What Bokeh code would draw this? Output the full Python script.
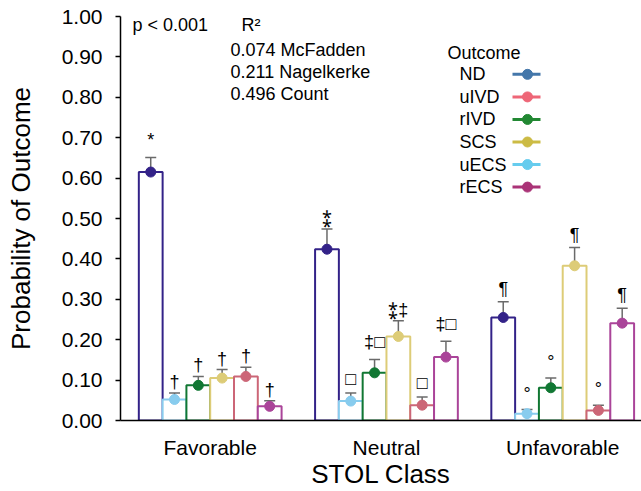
from bokeh.plotting import figure
from bokeh.models import (ColumnDataSource, Whisker, TeeHead, FixedTicker,
                          PrintfTickFormatter, Range1d)
from bokeh.core.properties import value
from bokeh.embed import file_html
from bokeh.resources import INLINE

# ---------------- data ----------------
categories = ["Favorable", "Neutral", "Unfavorable"]
bar_order = ["ND", "uECS", "rIVD", "SCS", "uIVD", "rECS"]
legend_order = ["ND", "uIVD", "rIVD", "SCS", "uECS", "rECS"]

prob_ND = [0.615, 0.424, 0.255]
prob_uECS = [0.052, 0.048, 0.017]
prob_rIVD = [0.087, 0.118, 0.081]
prob_SCS = [0.105, 0.208, 0.383]
prob_uIVD = [0.109, 0.038, 0.025]
prob_rECS = [0.035, 0.157, 0.241]

upper_ND = [0.651, 0.474, 0.294]
upper_uECS = [0.068, 0.068, 0.027]
upper_rIVD = [0.109, 0.151, 0.105]
upper_SCS = [0.126, 0.247, 0.428]
upper_uIVD = [0.132, 0.058, 0.038]
upper_rECS = [0.049, 0.196, 0.278]

lower_ND = [0.578, 0.377, 0.216]
lower_uECS = [0.035, 0.029, 0.009]
lower_rIVD = [0.067, 0.086, 0.056]
lower_SCS = [0.081, 0.169, 0.341]
lower_uIVD = [0.085, 0.020, 0.012]
lower_rECS = [0.021, 0.122, 0.202]

marks_ND = ["*", "\u2051", "\u00b6"]
marks_uECS = ["\u2020", "\u25a1", "\u00b0"]
marks_rIVD = ["\u2020", "\u2021\u25a1", "\u00b0"]
marks_SCS = ["\u2020", "\u2051\u2021", "\u00b6"]
marks_uIVD = ["\u2020", "\u25a1", "\u00b0"]
marks_rECS = ["\u2020", "\u2021\u25a1", "\u00b6"]

y_ticks = [0.0, 0.1, 0.2, 0.3, 0.4, 0.5, 0.6, 0.7, 0.8, 0.9, 1.0]

stats_title = "p < 0.001"
r2_title = "R\u00b2"
r2_lines = ["0.074 McFadden", "0.211 Nagelkerke", "0.496 Count"]
legend_title = "Outcome"

bar_colors = {"ND": "#332288", "uECS": "#88CCEE", "rIVD": "#117733",
              "SCS": "#DDCC77", "uIVD": "#CC6677", "rECS": "#AA4499"}
legend_colors = {"ND": "#4477AA", "uIVD": "#EE6677", "rIVD": "#228833",
                 "SCS": "#CCBB44", "uECS": "#66CCEE", "rECS": "#AA3377"}

probs = {"ND": prob_ND, "uECS": prob_uECS, "rIVD": prob_rIVD,
         "SCS": prob_SCS, "uIVD": prob_uIVD, "rECS": prob_rECS}
uppers = {"ND": upper_ND, "uECS": upper_uECS, "rIVD": upper_rIVD,
          "SCS": upper_SCS, "uIVD": upper_uIVD, "rECS": upper_rECS}
lowers = {"ND": lower_ND, "uECS": lower_uECS, "rIVD": lower_rIVD,
          "SCS": lower_SCS, "uIVD": lower_uIVD, "rECS": lower_rECS}
marks = {"ND": marks_ND, "uECS": marks_uECS, "rIVD": marks_rIVD,
         "SCS": marks_SCS, "uIVD": marks_uIVD, "rECS": marks_rECS}

FONT = "Liberation Sans"

# ---------------- figure ----------------
W, H = 641, 491
LEFT, TOP, BOTTOM = 120, 16, 70
frame_w = W - LEFT
x0 = -0.509
unit_px = 176.25
x1 = x0 + frame_w / unit_px
frame_h = H - TOP - BOTTOM

p = figure(width=W, height=H, output_backend="svg", toolbar_location=None,
           x_range=Range1d(x0, x1), y_range=Range1d(0, 1.0),
           min_border_left=LEFT, min_border_right=0,
           min_border_top=TOP, min_border_bottom=BOTTOM)
p.outline_line_color = None
p.xgrid.visible = False
p.ygrid.visible = False
p.background_fill_color = "white"

group_w = 0.81
bw = group_w / len(bar_order)

# extra lift (px) for marks whose glyph sits low in the em box
lift = {"*": 6, "\u25a1": 3, "\u2021\u25a1": 6, "\u00b0": 5, "\u00b6": 2}

xs, tops, cols, ups, los, mk, offs = [], [], [], [], [], [], []
for i, k in enumerate(bar_order):
    for c in range(len(categories)):
        xs.append(c + (i - (len(bar_order) - 1) / 2) * bw)
        tops.append(probs[k][c])
        cols.append(bar_colors[k])
        ups.append(uppers[k][c])
        los.append(lowers[k][c])
        mk.append(marks[k][c])
        offs.append(-1 - lift.get(marks[k][c], 0))

src = ColumnDataSource(dict(x=xs, top=tops, color=cols, upper=ups,
                            lower=los, mark=mk, off=offs))

p.vbar(x="x", top="top", bottom=0, width=bw, source=src,
       fill_color="white", line_color="color", line_width=2)

wh = Whisker(base="x", upper="upper", lower="lower", source=src,
             line_color="#6a6a6a", line_width=1.5,
             upper_head=TeeHead(size=11, line_color="#6a6a6a", line_width=1.5),
             lower_head=TeeHead(size=11, line_color="#6a6a6a", line_width=1.5))
p.add_layout(wh)

p.scatter(x="x", y="top", source=src, size=10, fill_color="color",
          line_color="color")

p.text(x="x", y="upper", text="mark", source=src, text_align="center",
       text_baseline="bottom", y_offset="off", text_font=value(FONT),
       text_font_size="18px", text_color="black")

# ---------------- text block ----------------
def px2x(px):
    return x0 + (px - LEFT) / unit_px

def py2y(py):
    return (TOP + frame_h - py) / frame_h

p.text(x=[px2x(132)], y=[py2y(25)], text=[stats_title], text_baseline="middle",
       text_font=value(FONT), text_font_size="18px", text_color="black")
p.text(x=[px2x(241)], y=[py2y(25)], text=[r2_title], text_baseline="middle",
       text_font=value(FONT), text_font_size="18px", text_color="black")
p.text(x=[px2x(230)] * len(r2_lines),
       y=[py2y(50 + 22 * i) for i in range(len(r2_lines))],
       text=r2_lines, text_baseline="middle",
       text_font=value(FONT), text_font_size="18px", text_color="black")

# ---------------- legend (label left, glyph right) ----------------
p.text(x=[px2x(447)], y=[py2y(53)], text=[legend_title], text_baseline="middle",
       text_font=value(FONT), text_font_size="18px", text_color="black")
ly = [py2y(74 + 22.6 * i) for i in range(len(legend_order))]
p.text(x=[px2x(459)] * len(legend_order), y=ly, text=legend_order,
       text_baseline="middle", text_font=value(FONT), text_font_size="18px",
       text_color="black")
lcols = [legend_colors[k] for k in legend_order]
p.segment(x0=[px2x(512)] * len(legend_order), x1=[px2x(540)] * len(legend_order),
          y0=ly, y1=ly, line_color=lcols, line_width=3)
p.scatter(x=[px2x(527)] * len(legend_order), y=ly, size=10,
          fill_color=lcols, line_color=lcols)

# ---------------- axes ----------------
p.yaxis.ticker = FixedTicker(ticks=y_ticks)
p.yaxis.formatter = PrintfTickFormatter(format="%.2f")
p.yaxis.minor_tick_line_color = None
p.yaxis.major_tick_in = 0
p.yaxis.major_tick_out = 5
p.yaxis.major_label_standoff = 13
p.yaxis.axis_label = "Probability of Outcome"
p.yaxis.axis_label_standoff = 23

p.xaxis.ticker = FixedTicker(ticks=list(range(len(categories))))
p.xaxis.major_label_overrides = {i: c for i, c in enumerate(categories)}
p.xaxis.major_tick_line_color = None
p.xaxis.minor_tick_line_color = None
p.xaxis.major_label_standoff = 9
p.xaxis.axis_label = "STOL Class"
p.xaxis.axis_label_standoff = -3

for ax in (p.xaxis, p.yaxis):
    ax.axis_line_color = "black"
    ax.axis_line_width = 1.5
    ax.major_tick_line_width = 1.5
    ax.major_label_text_font = FONT
    ax.major_label_text_font_size = "21px"
    ax.major_label_text_color = "black"
    ax.axis_label_text_font = FONT
    ax.axis_label_text_font_size = "26px"
    ax.axis_label_text_font_style = "normal"
    ax.axis_label_text_color = "black"

open("out.html", "w").write(file_html(p, INLINE))
